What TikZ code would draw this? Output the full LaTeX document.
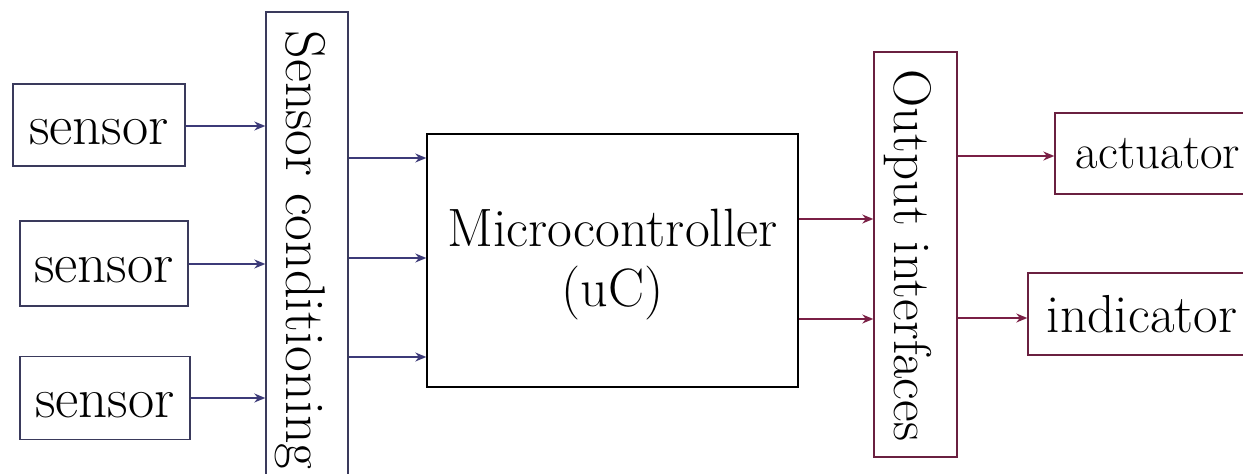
\documentclass[tikz,border=0pt]{standalone}
\usepackage{fontspec}
\usetikzlibrary{arrows.meta}
\definecolor{bluearrow}{HTML}{3C3A78}
\definecolor{redarrow}{HTML}{7A1F45}
\definecolor{bluebox}{HTML}{3A3A5C}
\definecolor{redbox}{HTML}{6A2040}
\tikzset{
  fs/.style={font=\fontsize{#1pt}{60pt}\selectfont},
  bbox/.style={draw=bluebox, line width=1.4pt, inner sep=0pt},
  rbox/.style={draw=redbox, line width=1.4pt, inner sep=0pt},
  kbox/.style={draw=black, line width=1.4pt, inner sep=0pt},
  sensorbox/.style={bbox, fs=57, text height=38pt, text depth=0pt},
  barrow/.style={draw=bluearrow, line width=1.4pt, -{Stealth[length=11pt,width=9pt]}},
  rarrow/.style={draw=redarrow, line width=1.4pt, -{Stealth[length=11pt,width=9pt]}},
}
\begin{document}
\begin{tikzpicture}[x=1pt,y=-1pt]
\useasboundingbox (0,0) rectangle (1243,474);
\fill[white] (0,0) rectangle (1243,474);
\clip (0,0) rectangle (1243,474);
% sensors
\node[sensorbox, minimum width=172pt, minimum height=82pt] (s1) at (99,125) {sensor};
\node[sensorbox, minimum width=168pt, minimum height=85pt] (s2) at (104,263.5) {sensor};
\node[sensorbox, minimum width=170pt, minimum height=83pt] (s3) at (105,398) {sensor};
% sensor conditioning
\node[bbox, minimum width=82pt, minimum height=478pt] (sc) at (307,251) {};
\node[fs=56, rotate=-90] (sct) at (300,250) {Sensor conditioning};
% microcontroller
\node[kbox, minimum width=371pt, minimum height=253pt] (uc) at (612.5,260.5) {};
\node[fs=54, align=center, yshift=-4.5pt] (uct) at (uc.center) {Microcontroller\\(uC)};
% output interfaces
\node[rbox, minimum width=83pt, minimum height=405pt] (oi) at (915.5,254.5) {};
\node[fs=53, rotate=-90] (oit) at (907.5,255) {Output interfaces};
% outputs
\node[rbox, fs=49, minimum width=206pt, minimum height=81pt] (act) at (1158,153.5) {actuator};
\node[rbox, fs=53.5, minimum width=228pt, minimum height=82pt] (ind) at (1142,314) {indicator};
% coordinates for connector heights
\coordinate (c1) at (0,158);
\coordinate (c2) at (0,258);
\coordinate (c3) at (0,357);
\coordinate (d1) at (0,219);
\coordinate (d2) at (0,319);
\coordinate (e1) at (0,156);
\coordinate (e2) at (0,318);
\coordinate (b1) at (0,126);
\coordinate (b2) at (0,264);
\coordinate (b3) at (0,398);
% connectors
\draw[barrow] (s1.east |- b1) -- (sc.west |- b1);
\draw[barrow] (s2.east |- b2) -- (sc.west |- b2);
\draw[barrow] (s3.east |- b3) -- (sc.west |- b3);
\draw[barrow] (sc.east |- c1) -- (uc.west |- c1);
\draw[barrow] (sc.east |- c2) -- (uc.west |- c2);
\draw[barrow] (sc.east |- c3) -- (uc.west |- c3);
\draw[rarrow] (uc.east |- d1) -- (oi.west |- d1);
\draw[rarrow] (uc.east |- d2) -- (oi.west |- d2);
\draw[rarrow] (oi.east |- e1) -- (act.west |- e1);
\draw[rarrow] (oi.east |- e2) -- (ind.west |- e2);
\end{tikzpicture}
\end{document}
